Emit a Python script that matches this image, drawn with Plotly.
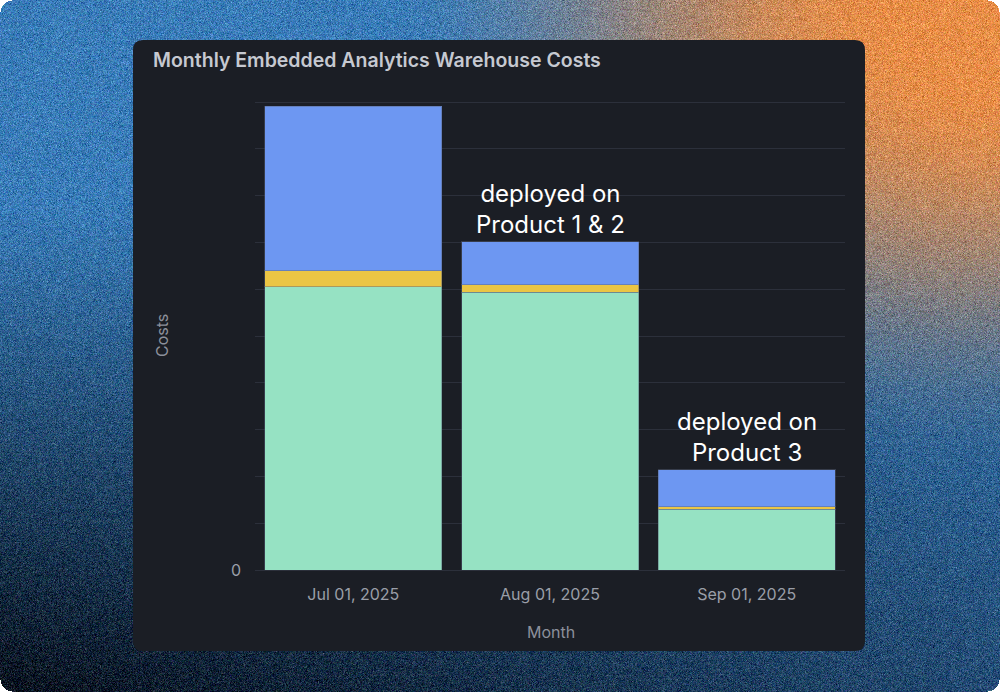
import base64
import struct
import zlib

import numpy as np
import plotly.graph_objects as go

# ---------------- data ----------------
months = ["Jul 01, 2025", "Aug 01, 2025", "Sep 01, 2025"]
series_green = [6.05, 5.94, 1.30]
series_yellow = [0.34, 0.15, 0.05]
series_blue = [3.52, 0.92, 0.79]
notes = ["", "deployed on<br>Product 1 & 2", "deployed on<br>Product 3"]
y_ticks = [0, 1, 2, 3, 4, 5, 6, 7, 8, 9, 10]
y_tick_text = ["0", "", "", "", "", "", "", "", "", "", ""]

# ---------------- geometry (pixels) ----------------
W, H = 1000, 692
PL, PR, PT, PB = 255, 845, 100, 570  # plot area
UNIT = 46.8  # pixels per y unit
YMAX = (PB - PT) / UNIT


def px(x):
    return (x - PL) / (PR - PL)


def py(y):
    return (PB - y) / (PB - PT)


# ---------------- background image ----------------
def make_png(arr):
    h, w, c = arr.shape
    raw = b"".join(b"\x00" + arr[i].tobytes() for i in range(h))

    def chunk(tag, data):
        return (struct.pack(">I", len(data)) + tag + data
                + struct.pack(">I", zlib.crc32(tag + data) & 0xFFFFFFFF))

    ihdr = struct.pack(">IIBBBBB", w, h, 8, 6, 0, 0, 0)
    png = (b"\x89PNG\r\n\x1a\n" + chunk(b"IHDR", ihdr)
           + chunk(b"IDAT", zlib.compress(raw, 6)) + chunk(b"IEND", b""))
    return "data:image/png;base64," + base64.b64encode(png).decode()


iw, ih = 1000, 692
u = np.linspace(0, 1, iw)[None, :]
v = np.linspace(0, 1, ih)[:, None]
blue_top = np.array([58, 124, 184], float)
dark_l = np.array([8, 18, 30], float)
dark_r = np.array([36, 76, 116], float)
t = np.clip((v - 0.3) / 0.7, 0, 1) ** 1.0
dark = dark_l[None, None, :] * (1 - u[..., None]) + dark_r[None, None, :] * u[..., None]
base = blue_top[None, None, :] * (1 - t[..., None]) + dark * t[..., None]
dx = (1 - u) * 1000
dy = v * 692 * 1.3
d = np.sqrt(dx ** 2 + dy ** 2)
wgt = np.clip(1.2 - d / 520, 0, 1)
wgt = wgt * wgt * (3 - 2 * wgt)
orange = np.array([232, 142, 72], float)
img = base * (1 - wgt[..., None]) + orange[None, None, :] * wgt[..., None]
rng = np.random.default_rng(3)
noise = rng.normal(0, 15, (ih, iw, 1)) + rng.normal(0, 8, (ih, iw, 3))
img = np.clip(img + noise, 0, 255).astype(np.uint8)
alpha = np.full((ih, iw, 1), 255, np.uint8)
r = 12
yy, xx = np.mgrid[0:ih, 0:iw]
for cx, cy in [(r, r), (iw - 1 - r, r), (r, ih - 1 - r), (iw - 1 - r, ih - 1 - r)]:
    inx = (xx < r) if cx == r else (xx > iw - 1 - r)
    iny = (yy < r) if cy == r else (yy > ih - 1 - r)
    out = inx & iny & ((xx - cx) ** 2 + (yy - cy) ** 2 > r * r)
    alpha[out] = 0
rgba = np.concatenate([img, alpha], axis=2)
bg_uri = make_png(rgba)

# ---------------- card shape ----------------
cx0, cx1, cy0, cy1, cr = 133, 865, 40, 651, 10
card_path = (
    f"M {px(cx0 + cr)},{py(cy0)} L {px(cx1 - cr)},{py(cy0)} "
    f"Q {px(cx1)},{py(cy0)} {px(cx1)},{py(cy0 + cr)} "
    f"L {px(cx1)},{py(cy1 - cr)} Q {px(cx1)},{py(cy1)} {px(cx1 - cr)},{py(cy1)} "
    f"L {px(cx0 + cr)},{py(cy1)} Q {px(cx0)},{py(cy1)} {px(cx0)},{py(cy1 - cr)} "
    f"L {px(cx0)},{py(cy0 + cr)} Q {px(cx0)},{py(cy0)} {px(cx0 + cr)},{py(cy0)} Z"
)

# ---------------- figure ----------------
FONT = "Inter, Roboto, sans-serif"
line = dict(color="rgba(90,100,125,0.45)", width=1)
fig = go.Figure()
fig.add_trace(go.Bar(x=months, y=series_green, name="Compute",
                     marker=dict(color="#96e2c3", line=line)))
fig.add_trace(go.Bar(x=months, y=series_yellow, name="Storage",
                     marker=dict(color="#ebc544", line=line)))
fig.add_trace(go.Bar(x=months, y=series_blue, name="Services",
                     marker=dict(color="#6d97f2", line=line)))

totals = [a + b + c for a, b, c in zip(series_green, series_yellow, series_blue)]
annotations = []
for m, tot, note in zip(months, totals, notes):
    if note:
        annotations.append(dict(x=m, y=tot, xref="x", yref="y", text=note,
                                showarrow=False, yanchor="bottom", yshift=1,
                                font=dict(family=FONT, size=24, color="#ffffff")))
annotations.append(dict(x=px(551), y=py(632), xref="paper", yref="paper",
                        text="Month", showarrow=False,
                        xanchor="center", yanchor="middle",
                        font=dict(family=FONT, size=16, color="#8c909b")))
annotations.append(dict(x=px(162), y=py(336), xref="paper", yref="paper",
                        text="Costs", showarrow=False, textangle=-90,
                        xanchor="center", yanchor="middle",
                        font=dict(family=FONT, size=16, color="#8c909b")))

fig.update_layout(
    width=W, height=H,
    margin=dict(l=PL, r=W - PR, t=PT, b=H - PB, pad=0),
    paper_bgcolor="#ffffff",
    plot_bgcolor="rgba(0,0,0,0)",
    barmode="stack",
    bargap=0.1,
    showlegend=False,
    title=dict(text="Monthly Embedded Analytics Warehouse Costs",
               x=153 / W, xref="container", xanchor="left",
               y=1 - 60 / H, yref="container", yanchor="middle",
               font=dict(family=FONT, size=19.5, color="#c6c9d1", weight=600)),
    images=[dict(source=bg_uri, xref="paper", yref="paper",
                 x=px(0), y=py(0), sizex=px(W) - px(0), sizey=py(0) - py(H),
                 xanchor="left", yanchor="top", sizing="stretch", layer="below")],
    shapes=[dict(type="path", path=card_path, xref="paper", yref="paper",
                 fillcolor="#1b1e25", line=dict(width=0), layer="below")],
    annotations=annotations,
    xaxis=dict(showgrid=False, showline=False, zeroline=False, ticks="",
               ticklabelstandoff=13,
               tickfont=dict(family=FONT, size=16, color="#9a9ea8")),
    yaxis=dict(range=[0, YMAX], tickvals=y_ticks, ticktext=y_tick_text,
               showgrid=True, gridcolor="#2c303b", gridwidth=1,
               zeroline=True, zerolinecolor="#2c303b", zerolinewidth=1,
               showline=False, ticks="",
               ticklabelstandoff=13,
               tickfont=dict(family=FONT, size=16, color="#9a9ea8")),
)

fig.write_html("out.html", config={"displayModeBar": False},
               post_script="document.body.style.margin='0';")
